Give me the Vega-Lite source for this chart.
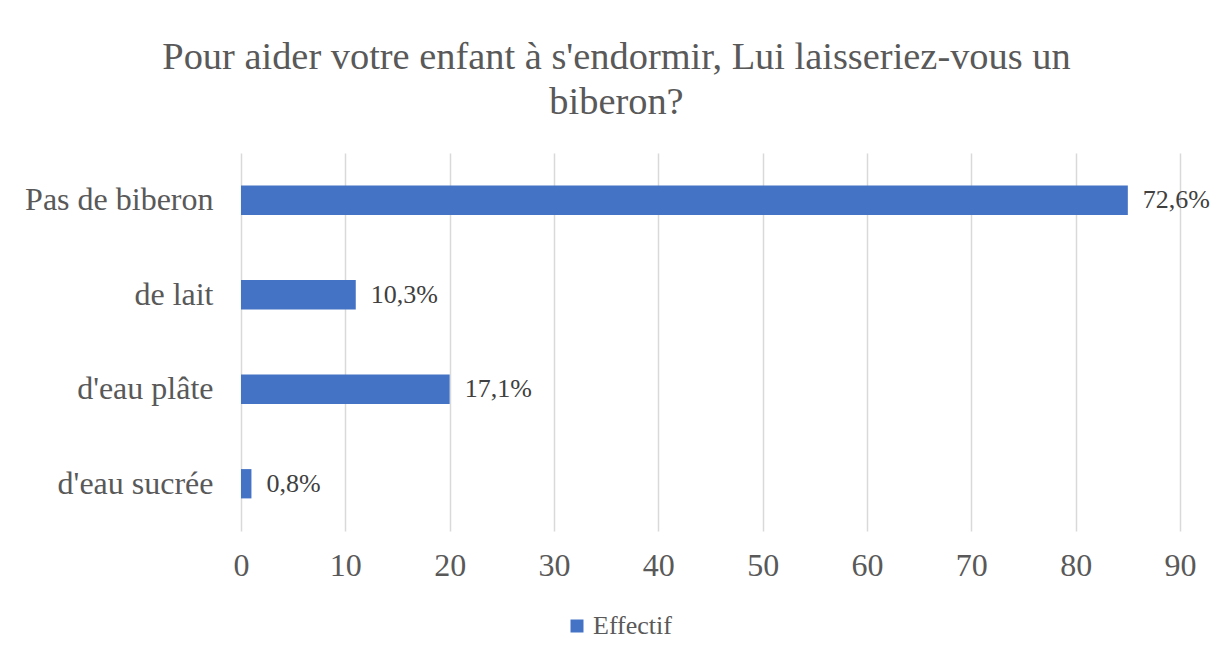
{
  "$schema": "https://vega.github.io/schema/vega-lite/v6.json",
  "autosize": "none",
  "width": 939,
  "height": 378,
  "padding": {"left": 241, "top": 153, "right": 34, "bottom": 126},
  "background": "white",
  "title": {
    "text": ["Pour aider votre enfant à s'endormir, Lui laisseriez-vous un", "biberon?"],
    "font": "Liberation Serif, Times New Roman, serif",
    "fontSize": 38.4,
    "fontWeight": "normal",
    "color": "#595959",
    "lineHeight": 45,
    "anchor": "middle",
    "dx": -94,
    "offset": 31
  },
  "data": {
    "values": [
      {"categorie": "Pas de biberon", "effectif": 85, "label": "72,6%", "serie": "Effectif"},
      {"categorie": "de lait", "effectif": 11, "label": "10,3%", "serie": "Effectif"},
      {"categorie": "d'eau plâte", "effectif": 20, "label": "17,1%", "serie": "Effectif"},
      {"categorie": "d'eau sucrée", "effectif": 1, "label": "0,8%", "serie": "Effectif"}
    ]
  },
  "encoding": {
    "y": {
      "field": "categorie",
      "type": "nominal",
      "sort": null,
      "scale": {"paddingInner": 0.69, "paddingOuter": 0.345},
      "axis": {
        "title": null,
        "domain": false,
        "ticks": false,
        "labelPadding": 28,
        "labelLimit": 0,
        "labelFont": "Liberation Serif, Times New Roman, serif",
        "labelFontSize": 32,
        "labelColor": "#595959"
      }
    },
    "x": {
      "field": "effectif",
      "type": "quantitative",
      "scale": {"domain": [0, 90], "nice": false},
      "axis": {
        "title": null,
        "values": [0, 10, 20, 30, 40, 50, 60, 70, 80, 90],
        "domain": false,
        "ticks": false,
        "grid": true,
        "gridColor": "#d9d9d9",
        "gridWidth": 1.5,
        "labelPadding": 19,
        "labelFont": "Liberation Serif, Times New Roman, serif",
        "labelFontSize": 32,
        "labelColor": "#595959",
        "labelFlush": false
      }
    }
  },
  "layer": [
    {
      "mark": {"type": "bar"},
      "encoding": {
        "color": {
          "field": "serie",
          "type": "nominal",
          "scale": {"range": ["#4472C4"]},
          "legend": {
            "title": null,
            "orient": "none",
            "legendX": 323,
            "legendY": 460,
            "symbolType": "square",
            "symbolSize": 169,
            "symbolStrokeWidth": 0,
            "labelFont": "Liberation Serif, Times New Roman, serif",
            "labelFontSize": 26,
            "labelColor": "#595959",
            "labelOffset": 3
          }
        }
      }
    },
    {
      "mark": {
        "type": "text",
        "align": "left",
        "baseline": "middle",
        "dx": 15,
        "font": "Liberation Serif, Times New Roman, serif",
        "fontSize": 26,
        "color": "#404040"
      },
      "encoding": {
        "text": {"field": "label"}
      }
    }
  ],
  "config": {
    "view": {"stroke": null}
  }
}
